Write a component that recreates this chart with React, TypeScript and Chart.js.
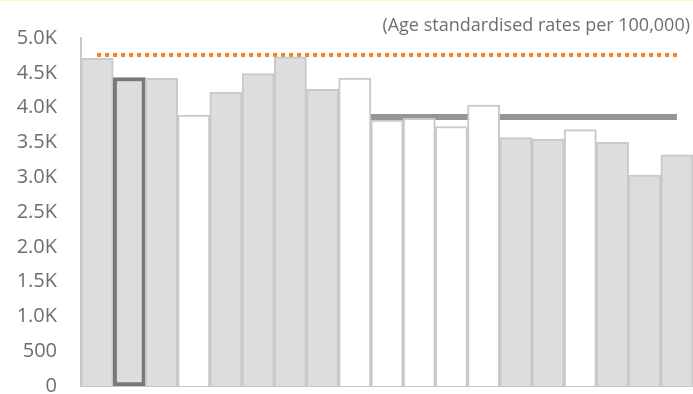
import React, { useEffect, useRef } from "react";
import { Chart, registerables } from "chart.js";

Chart.register(...registerables);

const categories = [
  "A1", "A2", "A3", "A4", "A5", "A6", "A7", "A8", "A9", "A10",
  "A11", "A12", "A13", "A14", "A15", "A16", "A17", "A18", "A19",
];
const rates = [
  4708, 4432, 4421, 3894, 4220, 4487, 4731, 4263, 4425, 3822,
  3846, 3726, 4037, 3568, 3549, 3683, 3501, 3032, 3323,
];
const whiteBars = [false, false, false, true, false, false, false, false, true, true, true, true, true, false, false, true, false, false, false];
const highlighted = 1;
const nationalAvg = [
  4756, 4756, 4756, 4756, 4756, 4756, 4756, 4756, 4756, 4756,
  4756, 4756, 4756, 4756, 4756, 4756, 4756, 4756, 4756,
];
const regionAvg = [
  null, null, null, null, null, null, null, null, 3865, 3865,
  3865, 3865, 3865, 3865, 3865, 3865, 3865, 3865, 3865,
];
const yTicks = [0, 500, 1000, 1500, 2000, 2500, 3000, 3500, 4000, 4500, 5000];
const subtitle = "(Age standardised rates per 100,000)";

const FONT = "'Open Sans', 'Liberation Sans', sans-serif";

export default function App() {
  const ref = useRef<HTMLCanvasElement | null>(null);

  useEffect(() => {
    document.body.style.margin = "0";
    const canvas = ref.current;
    if (!canvas) return;

    const subtitlePlugin = {
      id: "subtitleText",
      afterDraw(chart: any) {
        const ctx = chart.ctx;
        ctx.save();
        ctx.font = `18px ${FONT}`;
        ctx.fillStyle = "#6d6e71";
        ctx.textAlign = "right";
        ctx.textBaseline = "alphabetic";
        ctx.fillText(subtitle, chart.width - 3, 31);
        ctx.fillStyle = "#fdf3c8";
        ctx.fillRect(0, 0, chart.width, 1);
        ctx.restore();
      },
    };

    const chart = new Chart(canvas, {
      type: "bar",
      data: {
        labels: categories,
        datasets: [
          {
            type: "bar",
            data: rates,
            order: 1,
            backgroundColor: rates.map((_, i) => (whiteBars[i] ? "#ffffff" : "#dcdddf")),
            borderColor: rates.map((_, i) => (i === highlighted ? "#77787b" : "#c8c9cb")),
            borderWidth: rates.map((_, i) => (i === highlighted ? 4 : 2)),
            borderSkipped: ((ctx: any) => (ctx.dataIndex === highlighted ? false : "start")) as any,
            barPercentage: 1,
            categoryPercentage: 1,
          },
          {
            type: "line",
            data: regionAvg as any,
            order: 3,
            borderColor: "#939598",
            borderWidth: 6,
            pointRadius: 0,
            spanGaps: false,
          },
          {
            type: "line",
            data: nationalAvg,
            order: 2,
            borderColor: "#f58220",
            borderWidth: 4,
            borderDash: [4, 4],
            pointRadius: 0,
          },
        ],
      },
      options: {
        animation: false,
        responsive: false,
        layout: { padding: { top: 38, left: 0, right: 0, bottom: 0 } },
        plugins: {
          legend: { display: false },
          tooltip: { enabled: false },
        },
        scales: {
          x: {
            grid: { display: false, drawTicks: false },
            ticks: { display: false },
            border: { display: true, color: "#c8c9cb", width: 2 },
            afterFit(scale: any) {
              scale.height = 8;
            },
          },
          y: {
            min: 0,
            max: 5000,
            afterBuildTicks(scale: any) {
              scale.ticks = yTicks.map((v) => ({ value: v }));
            },
            grid: { display: false, drawTicks: true, tickLength: 24 },
            border: { display: true, color: "#c8c9cb", width: 2 },
            ticks: {
              padding: 0,
              color: "#6d6e71",
              font: { family: FONT, size: 20, lineHeight: 0.7 },
              callback: (v: any) => (Number(v) >= 1000 ? (Number(v) / 1000).toFixed(1) + "K" : String(v)),
            },
            afterFit(scale: any) {
              scale.width = 81;
            },
          },
        },
      },
      plugins: [subtitlePlugin],
    });

    return () => chart.destroy();
  }, []);

  return (
    <div style={{ position: "absolute", left: 0, top: 0, width: 693, height: 394 }}>
      <canvas ref={ref} width={693} height={394} style={{ display: "block" }} />
    </div>
  );
}
